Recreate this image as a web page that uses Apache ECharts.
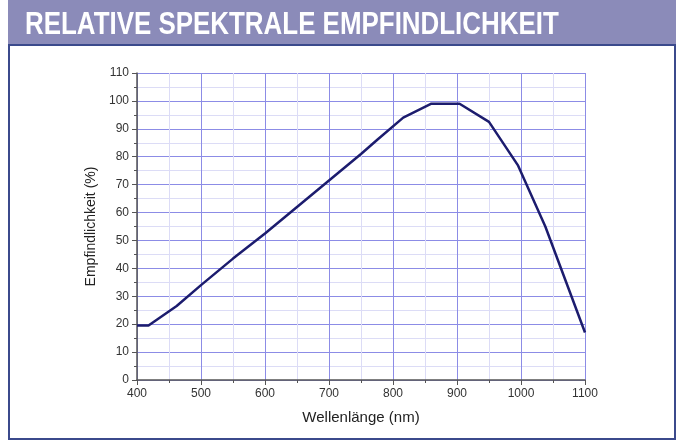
<!DOCTYPE html>
<html><head><meta charset="utf-8">
<script src="https://cdn.jsdelivr.net/npm/echarts@6/dist/echarts.min.js"></script>
<style>html,body{margin:0;padding:0;background:#fff;}#c{width:682px;height:444px;}</style>
</head><body><div id="c"></div>
<script>
const title = "RELATIVE SPEKTRALE EMPFINDLICHKEIT";
const xAxisName = "Wellenlänge (nm)";
const yAxisName = "Empfindlichkeit (%)";
const wavelengths = [400, 418, 462, 500, 550, 600, 650, 700, 750, 775, 816, 860, 904, 950, 995, 1038, 1100];
const sensitivity = [19.5, 19.5, 26.5, 34, 43.5, 52.5, 62, 71.5, 81, 86, 94, 99, 99, 92.5, 77, 55, 17];

const chart = echarts.init(document.getElementById('c'), null, {renderer: 'canvas'});
const gridLine = {show: true, lineStyle: {color: '#8c8ce6', width: 1}};
const minorLine = {show: true, lineStyle: {color: '#dcdcf6', width: 1}};
chart.setOption({
  backgroundColor: '#ffffff',
  animation: false,
  graphic: [
    {type: 'rect', shape: {x: 8, y: 0, width: 668, height: 45}, style: {fill: '#8b8bb9'}, z: 0},
    {type: 'rect', shape: {x: 9, y: 45, width: 666, height: 394}, style: {fill: '#ffffff', stroke: '#3b4a8c', lineWidth: 2}, z: 0},
    {type: 'text', x: 25, y: 9, scaleX: 0.81, style: {text: title, fill: '#ffffff', font: 'bold 32px "Liberation Sans", Arial, sans-serif'}, z: 1}
  ],
  grid: {left: 137, right: 97, top: 73, bottom: 64, show: true, borderColor: '#777', borderWidth: 1, backgroundColor: 'transparent'},
  xAxis: {
    type: 'value', min: 400, max: 1100, interval: 100,
    name: xAxisName, nameLocation: 'middle', nameGap: 30,
    nameTextStyle: {fontSize: 15, color: '#222', fontFamily: 'Liberation Sans'},
    axisLine: {show: true, lineStyle: {color: '#555', width: 1.5}},
    axisTick: {show: true, length: 5, lineStyle: {color: '#555'}},
    minorTick: {show: true, splitNumber: 2, length: 3, lineStyle: {color: '#555'}},
    axisLabel: {fontSize: 12, color: '#333', fontFamily: 'Liberation Sans', margin: 8, formatter: v => String(v)},
    splitLine: gridLine,
    minorSplitLine: minorLine
  },
  yAxis: {
    type: 'value', min: 0, max: 110, interval: 10,
    name: yAxisName, nameLocation: 'middle', nameGap: 38,
    nameTextStyle: {fontSize: 14, color: '#222', fontFamily: 'Liberation Sans'},
    axisLine: {show: true, lineStyle: {color: '#555', width: 1.5}},
    axisTick: {show: true, length: 5, lineStyle: {color: '#555'}},
    minorTick: {show: true, splitNumber: 2, length: 3, lineStyle: {color: '#555'}},
    axisLabel: {fontSize: 12, color: '#333', fontFamily: 'Liberation Sans', margin: 8, formatter: v => String(v)},
    splitLine: gridLine,
    minorSplitLine: minorLine
  },
  series: [{
    type: 'line', data: wavelengths.map((w, i) => [w, sensitivity[i]]),
    showSymbol: false, smooth: false,
    lineStyle: {color: '#1c1c6e', width: 2.5}
  }]
});
</script></body></html>
